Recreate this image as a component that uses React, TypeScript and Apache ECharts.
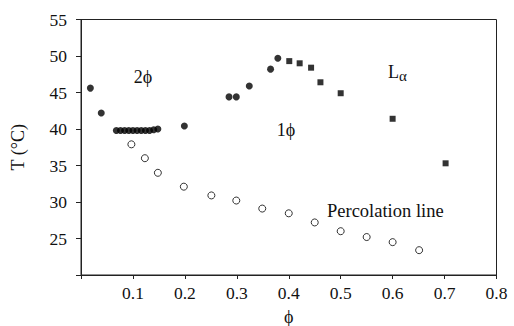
import React, { useEffect, useRef } from "react";
import * as echarts from "echarts";

const boundaryCircles: [number, number][] = [
  [0.018, 45.6], [0.039, 42.2],
  [0.068, 39.8], [0.076, 39.8], [0.084, 39.8], [0.092, 39.8], [0.1, 39.8], [0.108, 39.8],
  [0.116, 39.8], [0.124, 39.8], [0.132, 39.8], [0.14, 39.9], [0.148, 40.0],
  [0.199, 40.4], [0.285, 44.4], [0.299, 44.4], [0.324, 45.9], [0.365, 48.2], [0.379, 49.7],
];
const lamellarSquares: [number, number][] = [
  [0.401, 49.3], [0.421, 49.0], [0.443, 48.4], [0.461, 46.4], [0.5, 44.9], [0.6, 41.4], [0.702, 35.3],
];
const percolation: [number, number][] = [
  [0.097, 37.9], [0.123, 36.0], [0.148, 34.0], [0.198, 32.1], [0.251, 30.9], [0.299, 30.2],
  [0.349, 29.1], [0.4, 28.45], [0.45, 27.2], [0.5, 26.0], [0.55, 25.2], [0.6, 24.5], [0.651, 23.4],
];
const xTicks = { min: 0, max: 0.8, interval: 0.1 };
const yTicks = { min: 20, max: 55, interval: 5 };

const FONT = "'Liberation Serif', 'DejaVu Serif', serif";

export default function App() {
  const ref = useRef<HTMLDivElement>(null);
  useEffect(() => {
    if (!ref.current) return;
    const chart = echarts.init(ref.current, null, { renderer: "svg" });
    chart.setOption({
      animation: false,
      backgroundColor: "#fff",
      grid: {
        left: 81, top: 19.5, width: 415.5, height: 255.5, containLabel: false, outerBoundsMode: "none",
        show: true, borderColor: "#222", borderWidth: 1, backgroundColor: "transparent",
      },
      xAxis: {
        type: "value",
        ...xTicks,
        name: "ϕ",
        nameLocation: "middle",
        nameGap: 33,
        nameTextStyle: { fontFamily: FONT, fontSize: 18, color: "#111" },
        axisLine: { show: true, lineStyle: { color: "#222", width: 1 } },
        axisTick: { show: true, length: 4, lineStyle: { color: "#222" } },
        axisLabel: {
          fontFamily: FONT, fontSize: 17.5, color: "#111", margin: 9,
          formatter: (v: number) => (v === 0 ? "" : v.toFixed(1)),
        },
        splitLine: { show: false },
      },
      yAxis: {
        type: "value",
        ...yTicks,
        name: "T (°C)",
        nameLocation: "middle",
        nameGap: 54.5,
        nameTextStyle: { fontFamily: FONT, fontSize: 18, color: "#111" },
        axisLine: { show: true, lineStyle: { color: "#222", width: 1 } },
        axisTick: { show: true, length: 5, lineStyle: { color: "#222" } },
        axisLabel: {
          fontFamily: FONT, fontSize: 17.5, color: "#111", margin: 14,
          formatter: (v: number) => (v === 20 ? "" : String(v)),
        },
        splitLine: { show: false },
      },
      series: [
        {
          type: "scatter", data: boundaryCircles, symbol: "circle", symbolSize: 7,
          itemStyle: { color: "#000" },
        },
        {
          type: "scatter", data: lamellarSquares, symbol: "rect", symbolSize: 6,
          itemStyle: { color: "#000" },
        },
        {
          type: "scatter", data: percolation, symbol: "circle", symbolSize: 7,
          itemStyle: { color: "#fff", borderColor: "#000", borderWidth: 1 },
        },
      ],
      graphic: [
        { type: "text", x: 143, y: 77, style: { text: "2ϕ", font: `18px ${FONT}`, fill: "#111", align: "center", verticalAlign: "middle" } },
        { type: "text", x: 286, y: 130, style: { text: "1ϕ", font: `18px ${FONT}`, fill: "#111", align: "center", verticalAlign: "middle" } },
        {
          type: "text", x: 388, y: 72,
          style: {
            text: "{a|L}{b|α}", fill: "#111", verticalAlign: "middle",
            rich: {
              a: { fontFamily: FONT, fontSize: 18, color: "#111" },
              b: { fontFamily: FONT, fontSize: 15, color: "#111", padding: [8, 0, 0, 0] },
            },
          },
        },
        { type: "text", x: 327, y: 211, style: { text: "Percolation line", font: `18.5px ${FONT}`, fill: "#111", verticalAlign: "middle" } },
      ],
    });
    return () => chart.dispose();
  }, []);
  return <div ref={ref} style={{ position: "fixed", left: 0, top: 0, width: 514, height: 326 }} />;
}
